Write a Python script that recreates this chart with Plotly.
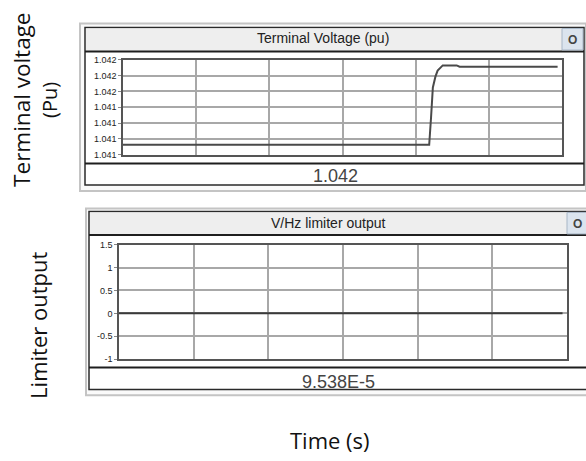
import plotly.graph_objects as go

# Terminal voltage trace (pu) against time
time_v = [0.0, 4.185, 4.21, 4.235, 4.27, 4.30, 4.37, 4.56, 4.60, 5.94]
volt = [1.041044, 1.041044, 1.04130, 1.041588, 1.04169, 1.041747, 1.041797, 1.041797, 1.041784, 1.041784]
volt_ticks = [1.04095, 1.0411, 1.04125, 1.0414, 1.04155, 1.0417, 1.04185]

# V/Hz limiter output against time
time_l = [0.0, 5.94]
limiter = [9.538e-5, 9.538e-5]
lim_ticks = [-1, -0.5, 0, 0.5, 1, 1.5]
lim_tick_labels = ["-1", "-0.5", "0", "0.5", "1", "1.5"]

W, H = 586, 461


def px(x):
    return x / W


def py(y):
    return 1 - y / H


def sci(v):
    m, e = f"{v:.3E}".split("E")
    return f"{m}E{int(e)}"


fig = go.Figure()
fig.add_trace(go.Scatter(x=time_v, y=volt, mode="lines", xaxis="x", yaxis="y",
                         line=dict(color="#4a4a4a", width=2), showlegend=False))
fig.add_trace(go.Scatter(x=time_l, y=limiter, mode="lines", xaxis="x2", yaxis="y2",
                         line=dict(color="#3a3a3a", width=2), showlegend=False))

shapes = []
annotations = []


def rect(x0, y0, x1, y1, fill=None, line=None, lw=1.0):
    shapes.append(dict(type="rect", xref="paper", yref="paper",
                       x0=px(x0), x1=px(x1), y0=py(y1), y1=py(y0),
                       fillcolor=fill or "rgba(0,0,0,0)",
                       line=dict(color=line or "rgba(0,0,0,0)", width=lw if line else 0),
                       layer="below"))


def hline(x0, x1, y, color, lw):
    shapes.append(dict(type="line", xref="paper", yref="paper",
                       x0=px(x0), x1=px(x1), y0=py(y), y1=py(y),
                       line=dict(color=color, width=lw), layer="below"))


def text(x, y, s, size, color="#222", family="Liberation Sans", angle=0):
    annotations.append(dict(x=px(x), y=py(y), xref="paper", yref="paper", text=s,
                            showarrow=False, xanchor="center", yanchor="middle",
                            textangle=angle, font=dict(size=size, color=color, family=family)))


def panel(ox0, oy0, ox1, oy1, ix0, iy0, ix1, iy1, bar_bottom, sep_y, btn, title, title_xy, value, value_xy):
    rect(ox0, oy0, ox1, oy1, fill="#fafafa", line="#c4c4c4", lw=2)
    rect(ix0, iy0, ix1, iy1, fill="white", line="#2a2a2a", lw=1.5)
    rect(ix0 + 1, iy0 + 1, ix1 - 1, bar_bottom, fill="#eeeeee")
    hline(ix0, ix1, bar_bottom, "#1e1e1e", 2)
    hline(ix0, ix1, sep_y, "#1e1e1e", 2)
    bx0, by0, bx1, by1 = btn
    rect(bx0, by0, bx1, by1, fill="#dbe4ee", line="#a8b6c6", lw=1)
    text((bx0 + bx1) / 2, (by0 + by1) / 2 + 0.5, "<b>O</b>", 12, "#444", "Liberation Sans")
    text(title_xy[0], title_xy[1], title, 14, "#222", "Liberation Sans")
    text(value_xy[0], value_xy[1], value, 18, "#444", "Liberation Sans")


panel(80, 19, 586, 190, 85, 23, 584, 184, 47.5, 162, (562, 24, 583, 46),
      "Terminal Voltage (pu)", (323, 34), f"{volt[-1]:.3f}", (335, 175))
panel(86, 208, 590, 399, 89, 211, 590, 393, 235, 370.5, (567, 212, 588, 234),
      "V/Hz limiter output", (328, 223), sci(limiter[-1]), (338, 385))

# Side and bottom captions
text(22, 97, "Terminal voltage", 22.5, "#111", "Open Sans", -90)
text(50, 97, "(Pu)", 20, "#111", "Open Sans", -90)
text(38, 327, "Limiter output", 22, "#111", "Open Sans", -90)
text(330, 445, "Time (s)", 22, "#111", "Open Sans")

grid = "#a8a8a8"
axis_line = "#555555"
tick_font = dict(size=9, color="#222", family="Liberation Sans")

common_x = dict(range=[0, 6], dtick=1, tick0=0, showticklabels=False, showgrid=True,
                gridcolor=grid, gridwidth=1.5, zeroline=False, showline=True,
                linecolor=axis_line, linewidth=1.5, mirror=True, ticks="")
common_y = dict(showgrid=True, gridcolor=grid, gridwidth=1.5, zeroline=False,
                showline=True, linecolor=axis_line, linewidth=1.5, mirror=True,
                ticks="outside", ticklen=3, tickcolor="#888", tickfont=tick_font)

fig.update_layout(
    width=W, height=H, autosize=False,
    margin=dict(l=0, r=0, t=0, b=0),
    paper_bgcolor="white", plot_bgcolor="rgba(0,0,0,0)",
    xaxis=dict(domain=[px(123), px(562)], anchor="y", **common_x),
    yaxis=dict(domain=[py(153), py(56)], anchor="x", range=[volt_ticks[0], volt_ticks[-1]],
               tickvals=volt_ticks, tickformat=".3f", **common_y),
    xaxis2=dict(domain=[px(119), px(567)], anchor="y2", **common_x),
    yaxis2=dict(domain=[py(362), py(245)], anchor="x2", range=[lim_ticks[0], lim_ticks[-1]],
                tickvals=lim_ticks, ticktext=lim_tick_labels, **common_y),
    shapes=shapes,
    annotations=annotations,
)

fig.write_html("out.html")
